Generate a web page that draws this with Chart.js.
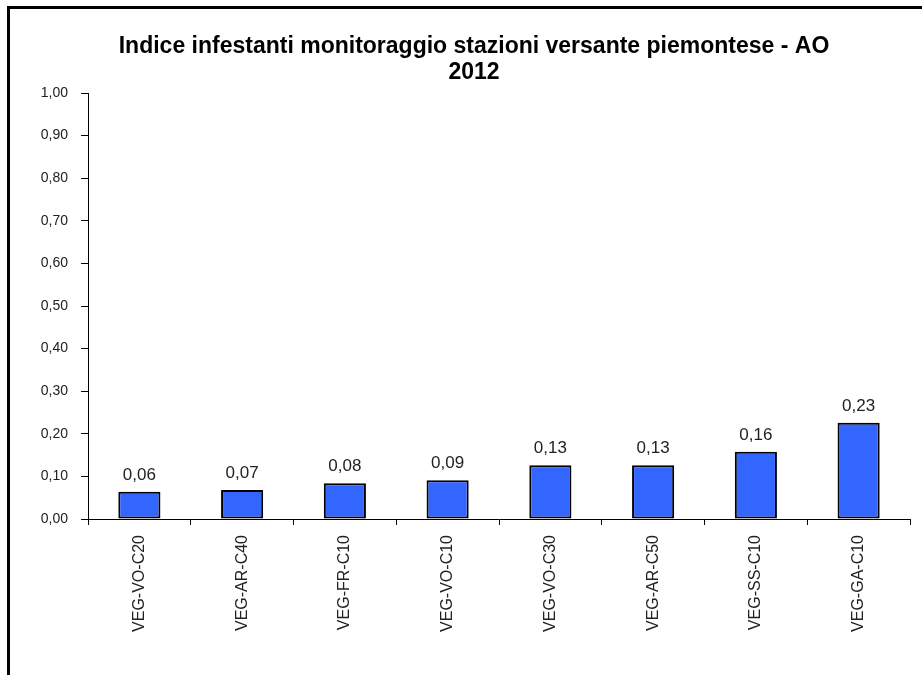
<!DOCTYPE html>
<html>
<head>
<meta charset="utf-8">
<script src="https://cdn.jsdelivr.net/npm/chart.js@4"></script>
<style>
  html, body { margin: 0; padding: 0; background: #fff; }
  #wrap { width: 922px; height: 675px; }
</style>
</head>
<body>
<div id="wrap"><canvas id="indice"></canvas></div>
<script>
const stazioni = ['VEG-VO-C20', 'VEG-AR-C40', 'VEG-FR-C10', 'VEG-VO-C10', 'VEG-VO-C30', 'VEG-AR-C50', 'VEG-SS-C10', 'VEG-GA-C10'];
const indice = [0.064, 0.068, 0.084, 0.091, 0.126, 0.126, 0.158, 0.226];
const titolo = ['Indice infestanti monitoraggio stazioni versante piemontese - AO', '2012'];

const FONT = '"Liberation Sans", Arial, sans-serif';
const virgola = v => Number(v).toFixed(2).replace('.', ',');

// cornice nera (solo lato sinistro e superiore) + titolo
const cornice = {
  id: 'cornice',
  beforeDraw(chart) {
    const ctx = chart.ctx;
    ctx.save();
    ctx.fillStyle = '#fff';
    ctx.fillRect(0, 0, chart.width, chart.height);
    ctx.strokeStyle = '#000';
    ctx.lineWidth = 3;
    ctx.beginPath();
    ctx.moveTo(8.5, chart.height);
    ctx.lineTo(8.5, 7.5);
    ctx.lineTo(chart.width, 7.5);
    ctx.stroke();
    ctx.restore();
  },
  afterDraw(chart) {
    const ctx = chart.ctx;
    ctx.save();
    ctx.fillStyle = '#000';
    ctx.font = 'bold 23px ' + FONT;
    ctx.textAlign = 'center';
    ctx.textBaseline = 'alphabetic';
    ctx.fillText(titolo[0], 474, 53);
    ctx.fillText(titolo[1], 474, 79);
    ctx.restore();
  }
};

// valori sopra le barre
const etichette = {
  id: 'etichette',
  afterDatasetsDraw(chart) {
    const ctx = chart.ctx;
    const meta = chart.getDatasetMeta(0);
    ctx.save();
    ctx.fillStyle = '#222';
    ctx.font = '17px ' + FONT;
    ctx.textAlign = 'center';
    ctx.textBaseline = 'alphabetic';
    meta.data.forEach((bar, i) => {
      ctx.fillText(virgola(indice[i]), bar.x, bar.y - 12);
    });
    ctx.restore();
  }
};

new Chart(document.getElementById('indice'), {
  type: 'bar',
  data: {
    labels: stazioni,
    datasets: [{
      data: indice,
      backgroundColor: '#3366ff',
      borderColor: '#000',
      borderWidth: 2,
      borderSkipped: false,
      categoryPercentage: 1,
      barPercentage: 0.41
    }]
  },
  options: {
    responsive: true,
    maintainAspectRatio: false,
    animation: false,
    layout: { padding: { top: 93, right: 12, left: 0, bottom: 0 } },
    plugins: {
      legend: { display: false },
      title: { display: false },
      tooltip: { enabled: false }
    },
    scales: {
      x: {
        afterFit(scale) { scale.height = 156; },
        border: { color: '#000', width: 1 },
        grid: { drawOnChartArea: false, drawTicks: true, tickLength: 6, color: '#000', offset: true },
        ticks: {
          color: '#222',
          font: { family: FONT, size: 16 },
          minRotation: 90,
          maxRotation: 90,
          padding: 10,
          autoSkip: false
        }
      },
      y: {
        min: 0,
        max: 1,
        afterFit(scale) { scale.width = 88; },
        border: { color: '#000', width: 1 },
        grid: { drawOnChartArea: false, drawTicks: true, tickLength: 7, color: '#000' },
        ticks: {
          stepSize: 0.1,
          color: '#222',
          font: { family: FONT, size: 14 },
          padding: 13,
          callback: v => virgola(v)
        }
      }
    }
  },
  plugins: [cornice, etichette]
});
</script>
</body>
</html>
